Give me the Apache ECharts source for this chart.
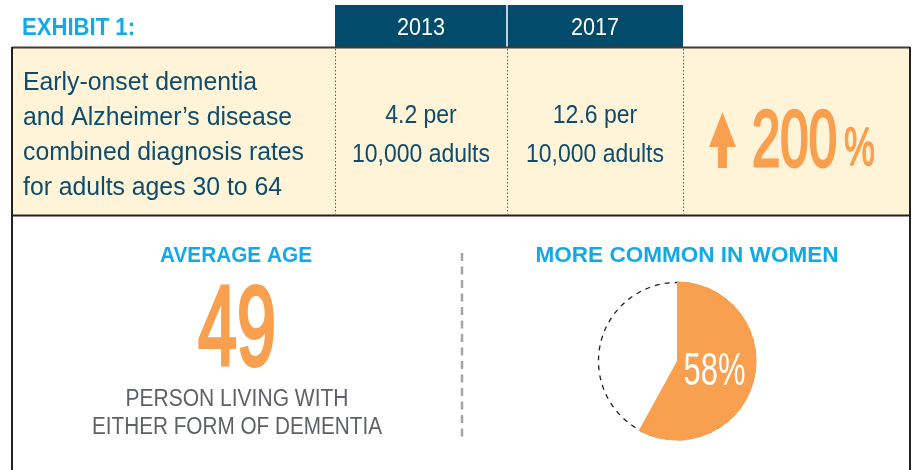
<!DOCTYPE html>
<html>
<head>
<meta charset="utf-8">
<script src="https://cdn.jsdelivr.net/npm/echarts@6/dist/echarts.min.js"></script>
<style>
html,body{margin:0;padding:0;background:#fff;}
#chart{width:916px;height:470px;}
</style>
</head>
<body>
<div id="chart"></div>
<script>
// ---- data ----
var exhibitTitle = 'EXHIBIT 1:';
var years = ['2013', '2017'];
var ratesPer10k = [4.2, 12.6];
var rateUnit = '10,000 adults';
var rowLabelLines = ['Early-onset dementia', 'and Alzheimer\u2019s disease', 'combined diagnosis rates', 'for adults ages 30 to 64'];
var increasePct = 200;
var avgAgeTitle = 'AVERAGE AGE';
var avgAge = 49;
var avgAgeCaption = ['PERSON LIVING WITH', 'EITHER FORM OF DEMENTIA'];
var womenTitle = 'MORE COMMON IN WOMEN';
var sexCategories = ['Women', 'Men'];
var sexShares = [58, 42];

// ---- style ----
var FONT = '"Liberation Sans", Arial, sans-serif';
var NAVY = '#034B6A';
var TEXT_BLUE = '#0D4C6C';
var CYAN = '#12AAE6';
var ORANGE = '#F8A04F';
var CREAM = '#FFF4D8';
var GREY = '#5E6166';

var measureCtx = document.createElement('canvas').getContext('2d');
function measure(text, size, weight) {
  measureCtx.font = (weight || 'normal') + ' ' + size + 'px ' + FONT;
  return measureCtx.measureText(text).width;
}
// text element whose cap-height centre sits at capY, optionally squeezed to a target width
function fitText(x, capY, text, size, color, weight, targetWidth, align, z, strokeW) {
  var w = measure(text, size, weight);
  var sx = targetWidth ? targetWidth / w : 1;
  var el = {
    type: 'text', x: x, y: capY + 0.05 * size, scaleX: sx, silent: true, z: z || 10,
    style: {text: text, fill: color, fontFamily: FONT, fontSize: size, fontWeight: weight || 'normal',
      align: align || 'center', verticalAlign: 'middle'}
  };
  if (strokeW) { el.style.stroke = color; el.style.lineWidth = strokeW; }
  return el;
}

var chart = echarts.init(document.getElementById('chart'), null, {renderer: 'canvas'});

var colCenters = [421, 595];
var graphics = [];
// cream band
graphics.push({type: 'rect', silent: true, z: 0, shape: {x: 12, y: 48, width: 898, height: 167}, style: {fill: CREAM}});
// header band
graphics.push({type: 'rect', silent: true, z: 1, shape: {x: 335, y: 5, width: 348, height: 42}, style: {fill: NAVY}});
graphics.push({type: 'line', silent: true, z: 2, shape: {x1: 507, y1: 5, x2: 507, y2: 47}, style: {stroke: '#ffffff', lineWidth: 1.5}});
// borders
graphics.push({type: 'line', silent: true, z: 3, shape: {x1: 12, y1: 47.5, x2: 910, y2: 47.5}, style: {stroke: '#3c3c3c', lineWidth: 2}});
graphics.push({type: 'line', silent: true, z: 3, shape: {x1: 12, y1: 215.5, x2: 910, y2: 215.5}, style: {stroke: '#222', lineWidth: 2}});
graphics.push({type: 'line', silent: true, z: 3, shape: {x1: 12, y1: 47, x2: 12, y2: 470}, style: {stroke: '#222', lineWidth: 2}});
graphics.push({type: 'line', silent: true, z: 3, shape: {x1: 910, y1: 47, x2: 910, y2: 470}, style: {stroke: '#222', lineWidth: 2}});
// dotted column separators
[335.5, 507.5, 683.5].forEach(function (x) {
  graphics.push({type: 'line', silent: true, z: 2, shape: {x1: x, y1: 49, x2: x, y2: 214}, style: {stroke: '#2C6F93', lineWidth: 1, lineDash: [1.5, 2]}});
});
// dashed divider bottom
graphics.push({type: 'line', silent: true, z: 2, shape: {x1: 462, y1: 253, x2: 462, y2: 438}, style: {stroke: '#A9A49D', lineWidth: 2.5, lineDash: [8, 5.5]}});

// title
graphics.push(fitText(22, 27, exhibitTitle, 24, CYAN, 'bold', 113, 'left'));
// years
years.forEach(function (y, i) {
  graphics.push(fitText(colCenters[i], 27, y, 24, '#ffffff', 'normal', 48));
});
// row label (uniform squeeze derived from the widest line)
var rowScale = 281 / measure(rowLabelLines[2], 26.5);
rowLabelLines.forEach(function (l, i) {
  graphics.push(fitText(23, 81.5 + i * 34.8, l, 26.5, TEXT_BLUE, 'normal', measure(l, 26.5) * rowScale, 'left'));
});
// rates
var unitScale = 138 / measure(rateUnit, 26.5);
ratesPer10k.forEach(function (r, i) {
  var s = r.toFixed(1) + ' per';
  graphics.push(fitText(colCenters[i], 114, s, 26.5, TEXT_BLUE, 'normal', measure(s, 26.5) * unitScale));
  graphics.push(fitText(colCenters[i], 153, rateUnit, 26.5, TEXT_BLUE, 'normal', 138));
});
// arrow
graphics.push({type: 'polygon', silent: true, z: 10, shape: {points: [[722.5, 112], [736, 147], [727, 147], [727, 168], [718, 168], [718, 147], [709, 147]]}, style: {fill: ORANGE}});
// 200%
graphics.push(fitText(752, 140, String(increasePct), 79, ORANGE, 'normal', 85, 'left', 10, 3));
graphics.push(fitText(844, 147, '%', 54, ORANGE, 'normal', 31, 'left', 10, 1.5));

// bottom left
graphics.push(fitText(236, 255, avgAgeTitle, 22, CYAN, 'bold', 152));
graphics.push(fitText(237, 328.5, String(avgAge), 113, ORANGE, 'normal', 78, 'center', 10, 4));
graphics.push(fitText(237, 398.5, avgAgeCaption[0], 23.5, GREY, 'normal', 223));
graphics.push(fitText(237, 426.5, avgAgeCaption[1], 23.5, GREY, 'normal', 290));
// bottom right title
graphics.push(fitText(687, 255, womenTitle, 22, CYAN, 'bold', 303));

var option = {
  animation: false,
  backgroundColor: '#ffffff',
  graphic: graphics,
  series: [
    {
      type: 'pie', silent: true, z: 1,
      center: [677, 361], radius: [0, 78.5],
      label: {show: false}, labelLine: {show: false},
      emphasis: {disabled: true},
      itemStyle: {color: 'rgba(0,0,0,0)', borderColor: '#1f1f1f', borderWidth: 1.3, borderType: [5, 5]},
      data: [{value: 1, name: 'outline'}]
    },
    {
      type: 'pie', silent: true, z: 2,
      center: [677, 361], radius: [0, 79.5],
      startAngle: 90, clockwise: true,
      avoidLabelOverlap: false,
      label: {show: false},
      labelLine: {show: false},
      emphasis: {disabled: true},
      itemStyle: {borderWidth: 0},
      data: sexCategories.map(function (c, i) {
        return {
          name: c, value: sexShares[i],
          itemStyle: {color: i === 0 ? ORANGE : 'rgba(0,0,0,0)', borderWidth: 0}
        };
      })
    }
  ]
};
chart.setOption(option);

// place the share label at the slice's inside position, using the library's pie layout
var pieData = chart.getModel().getSeriesByIndex(1).getData();
var lay = pieData.getItemLayout(0);
var mid = (lay.startAngle + lay.endAngle) / 2;
var lx = lay.cx + lay.r * 0.5 * Math.cos(mid);
var ly = lay.cy + lay.r * 0.5 * Math.sin(mid);
var shareLabel = fitText(lx - 1, ly - 1, pieData.get('value', 0) + '%', 47, '#ffffff', 'normal', 62, 'center', 20);
graphics.push(shareLabel);
chart.setOption({graphic: graphics}, {replaceMerge: ['graphic']});
</script>
</body>
</html>
